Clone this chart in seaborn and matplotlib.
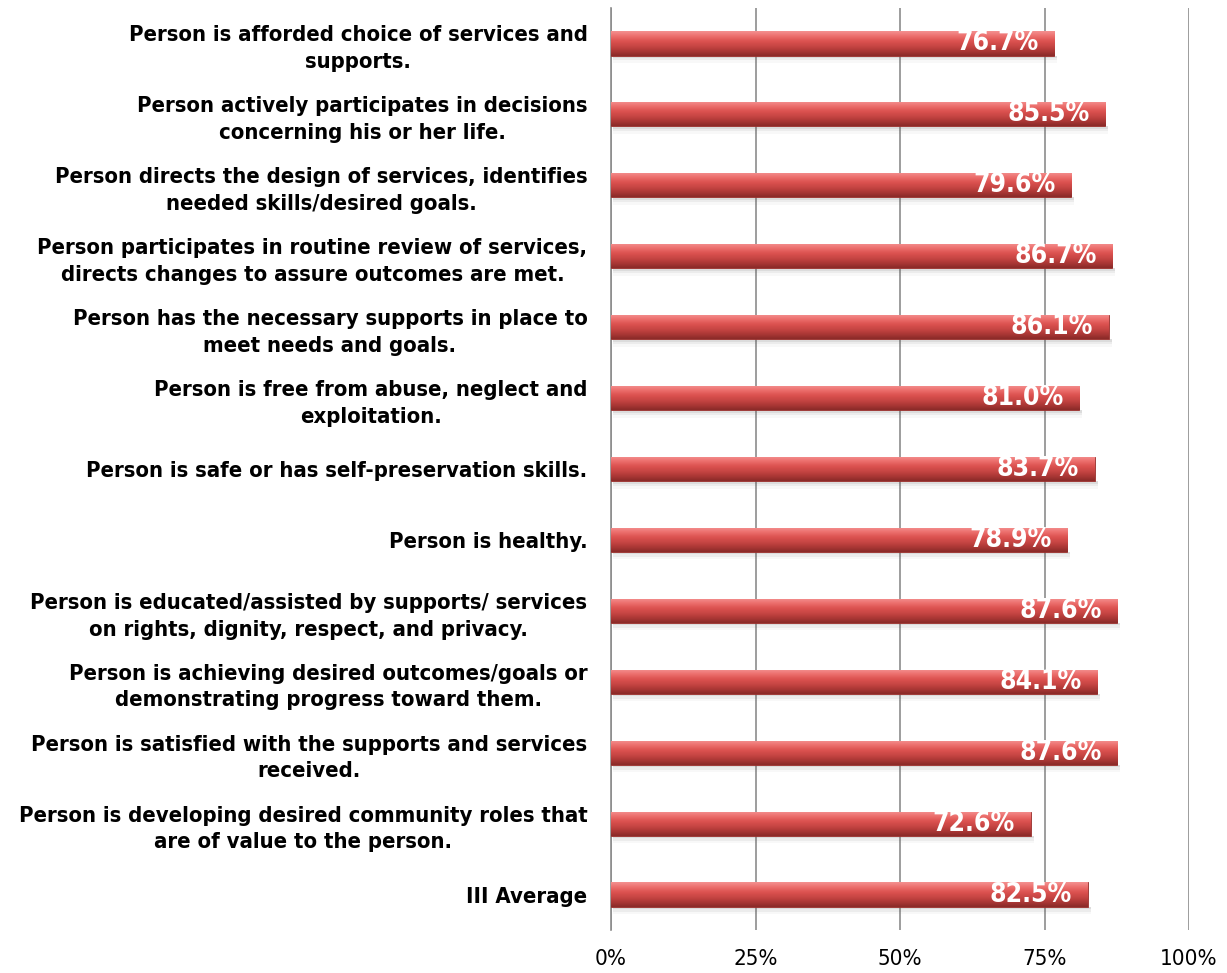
import numpy as np
import pandas as pd
import matplotlib
matplotlib.use("Agg")
import matplotlib.pyplot as plt
import seaborn as sns
from matplotlib.colors import LinearSegmentedColormap
from matplotlib.patches import Rectangle

categories = [
    "Person is afforded choice of services and\nsupports.",
    "Person actively participates in decisions\nconcerning his or her life.",
    "Person directs the design of services, identifies\nneeded skills/desired goals.",
    "Person participates in routine review of services,\ndirects changes to assure outcomes are met.",
    "Person has the necessary supports in place to\nmeet needs and goals.",
    "Person is free from abuse, neglect and\nexploitation.",
    "Person is safe or has self-preservation skills.",
    "Person is healthy.",
    "Person is educated/assisted by supports/ services\non rights, dignity, respect, and privacy.",
    "Person is achieving desired outcomes/goals or\ndemonstrating progress toward them.",
    "Person is satisfied with the supports and services\nreceived.",
    "Person is developing desired community roles that\nare of value to the person.",
    "III Average",
]
values = [76.7, 85.5, 79.6, 86.7, 86.1, 81.0, 83.7, 78.9, 87.6, 84.1, 87.6, 72.6, 82.5]
x_ticks = [0, 25, 50, 75, 100]
x_tick_labels = ["0%", "25%", "50%", "75%", "100%"]

df = pd.DataFrame({"item": categories, "pct": values})

sns.set_theme(style="white")
plt.rcParams["font.family"] = ["DejaVu Sans"]
plt.rcParams["font.stretch"] = "condensed"
plt.rcParams["text.color"] = "black"
plt.rcParams["xtick.color"] = "black"
plt.rcParams["ytick.color"] = "black"

fig = plt.figure(figsize=(12.27, 9.73), dpi=100)
ax = fig.add_axes([611 / 1227, 1 - 930 / 973, 578 / 1227, 922 / 973])

bar_h = 0.34
sns.barplot(data=df, x="pct", y="item", orient="h", color="#c0392b",
            width=bar_h, ax=ax, zorder=3)

# cylinder-like shading for each bar
cmap = LinearSegmentedColormap.from_list(
    "cyl", ["#f49090", "#ec6e6c", "#dc5250", "#c84644", "#ac3836", "#8a2a28"])
grad = np.linspace(0, 1, 64).reshape(-1, 1)
for patch in list(ax.patches):
    x0, y0 = patch.get_x(), patch.get_y()
    w, h = patch.get_width(), patch.get_height()
    patch.set_edgecolor("#9a2e2c")
    patch.set_linewidth(0.6)
    # soft shadow under the bar
    for k, a in enumerate([0.10, 0.07, 0.04]):
        sh = Rectangle((x0 + 0.3, y0 + h), w + 0.2, 0.035 * (k + 1),
                       facecolor="#555555", alpha=a, edgecolor="none", zorder=2)
        ax.add_patch(sh)
    im = ax.imshow(grad, cmap=cmap, aspect="auto",
                   extent=(x0, x0 + w, y0 + h, y0), zorder=3.5,
                   interpolation="bicubic")
    im.set_clip_path(patch)

ax.set_xlim(0, 100)
ax.set_ylim(len(categories) - 0.5, -0.5)

for i, v in enumerate(values):
    ax.text(v - 2.7, i, f"{v:.1f}%", color="white", fontweight="bold",
            fontsize=19, ha="right", va="center", zorder=5)

ax.set_xticks(x_ticks)
ax.set_xticklabels(x_tick_labels, fontsize=16)
ax.set_yticks(np.arange(len(categories)))
ax.set_yticklabels(categories, fontsize=15.8, fontweight="bold",
                   ha="right", multialignment="center", linespacing=1.42)
ax.tick_params(axis="y", length=0, pad=17)
ax.tick_params(axis="x", length=0, pad=14)

# small ticks between categories and under gridlines
ax.set_yticks(np.arange(-0.5, len(categories), 1), minor=True)
ax.tick_params(axis="y", which="minor", length=6, color="#888888", width=1)
ax.set_xticks(x_ticks, minor=True)
ax.tick_params(axis="x", which="minor", length=6, color="#888888", width=1)

ax.grid(axis="x", color="#8c8c8c", linewidth=1.2, zorder=0)
ax.set_axisbelow(True)
for s in ["top", "right", "bottom"]:
    ax.spines[s].set_visible(False)
ax.spines["left"].set_color("#8c8c8c")
ax.spines["left"].set_linewidth(1.2)
ax.set_xlabel("")
ax.set_ylabel("")

fig.savefig("out.png", dpi=100)
